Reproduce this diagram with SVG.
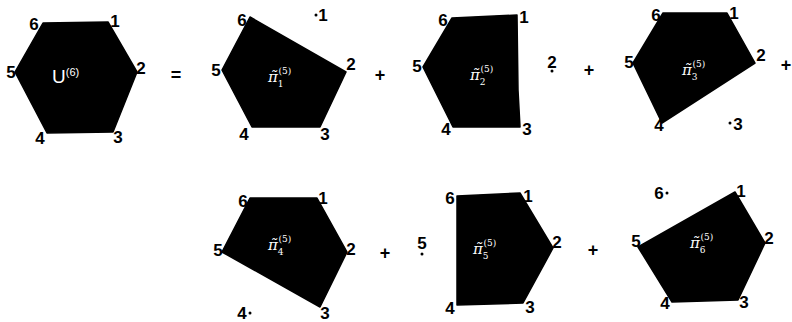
<svg xmlns="http://www.w3.org/2000/svg" width="792" height="322" viewBox="0 0 792 322">
<style>
.poly{fill:#000;stroke:#000;stroke-width:1.5;stroke-linejoin:round}
.lb{font-family:"Liberation Sans",Arial,sans-serif;font-weight:bold;font-size:17px;fill:#000;text-anchor:middle}
.op{font-family:"Liberation Sans",Arial,sans-serif;font-weight:bold;font-size:18px;fill:#000;text-anchor:middle}
.in{font-family:"DejaVu Serif",serif;fill:#fff;font-size:15px;font-style:italic}
.sup{font-size:9px;font-style:normal}
.dot{fill:#000}
</style>
<rect width="792" height="322" fill="#fff"/>
<g id="hex">
<polygon class="poly" points="43,23 108,22 137,72 113,132 47,133 15,72"/>
<text x="52" y="83" fill="#fff" style="font-family:'Liberation Sans',Arial,sans-serif;font-size:19px">U<tspan dy="-7" font-size="11">(6)</tspan></text>
<text class="lb" x="34" y="30">6</text><text class="lb" x="115" y="27">1</text>
<text class="lb" x="141" y="74">2</text><text class="lb" x="118" y="143">3</text>
<text class="lb" x="40" y="144">4</text><text class="lb" x="11" y="78">5</text>
</g>
<g id="p1">
<polygon class="poly" points="250,17 346,72 320,127 252,127 222,70"/>
<text class="in" x="268" y="82">π̃<tspan class="sup" dy="5">1</tspan><tspan class="sup" dx="-5" dy="-13">(5)</tspan></text>
<text class="lb" x="242" y="26">6</text><circle class="dot" cx="316" cy="15" r="1.5"/><text class="lb" x="323" y="21">1</text>
<text class="lb" x="351" y="70">2</text><text class="lb" x="325" y="140">3</text>
<text class="lb" x="244" y="140">4</text><text class="lb" x="216" y="76">5</text>
</g>
<g id="p2">
<polygon class="poly" points="452,18 517,15 518,90 520,127 453,127 423,67"/>
<text class="in" x="470" y="80">π̃<tspan class="sup" dy="5">2</tspan><tspan class="sup" dx="-5" dy="-13">(5)</tspan></text>
<text class="lb" x="443" y="26">6</text><text class="lb" x="524" y="23">1</text>
<text class="lb" x="552" y="68">2</text><circle class="dot" cx="552" cy="71" r="1.5"/><text class="lb" x="527" y="135">3</text>
<text class="lb" x="446" y="135">4</text><text class="lb" x="417" y="72">5</text>
</g>
<g id="p3">
<polygon class="poly" points="663,13 727,13 755,63 662,123 633,63"/>
<text class="in" x="682" y="75">π̃<tspan class="sup" dy="5">3</tspan><tspan class="sup" dx="-5" dy="-13">(5)</tspan></text>
<text class="lb" x="656" y="21">6</text><text class="lb" x="734" y="19">1</text>
<text class="lb" x="761" y="61">2</text><circle class="dot" cx="730" cy="123" r="1.5"/><text class="lb" x="738" y="130">3</text>
<text class="lb" x="659" y="131">4</text><text class="lb" x="629" y="68">5</text>
</g>
<g id="p4">
<polygon class="poly" points="250,198 317,198 347,252 320,307 222,252"/>
<text class="in" x="268" y="250">π̃<tspan class="sup" dy="5">4</tspan><tspan class="sup" dx="-5" dy="-13">(5)</tspan></text>
<text class="lb" x="243" y="207">6</text><text class="lb" x="323" y="204">1</text>
<text class="lb" x="351" y="255">2</text><text class="lb" x="325" y="319">3</text>
<text class="lb" x="242" y="319">4</text><circle class="dot" cx="250" cy="313" r="1.5"/><text class="lb" x="218" y="256">5</text>
</g>
<g id="p5">
<polygon class="poly" points="457,196 520,193 553,248 523,303 457,305"/>
<text class="in" x="473" y="254">π̃<tspan class="sup" dy="5">5</tspan><tspan class="sup" dx="-5" dy="-13">(5)</tspan></text>
<text class="lb" x="450" y="204">6</text><text class="lb" x="528" y="202">1</text>
<text class="lb" x="557" y="248">2</text><text class="lb" x="530" y="313">3</text>
<text class="lb" x="450" y="314">4</text><text class="lb" x="422" y="249">5</text><circle class="dot" cx="422" cy="254" r="1.5"/>
</g>
<g id="p6">
<polygon class="poly" points="735,192 765,243 738,300 672,302 638,247"/>
<text class="in" x="690" y="248">π̃<tspan class="sup" dy="5">6</tspan><tspan class="sup" dx="-5" dy="-13">(5)</tspan></text>
<text class="lb" x="659" y="199">6</text><circle class="dot" cx="667" cy="193" r="1.5"/><text class="lb" x="741" y="197">1</text>
<text class="lb" x="769" y="244">2</text><text class="lb" x="744" y="308">3</text>
<text class="lb" x="665" y="309">4</text><text class="lb" x="636" y="247">5</text>
</g>
<g id="operators">
<text class="op" x="176" y="81">=</text>
<text class="op" x="380" y="81">+</text>
<text class="op" x="589" y="76">+</text>
<text class="op" x="786" y="71">+</text>
<text class="op" x="385" y="259">+</text>
<text class="op" x="593" y="256">+</text>
</g>
</svg>
